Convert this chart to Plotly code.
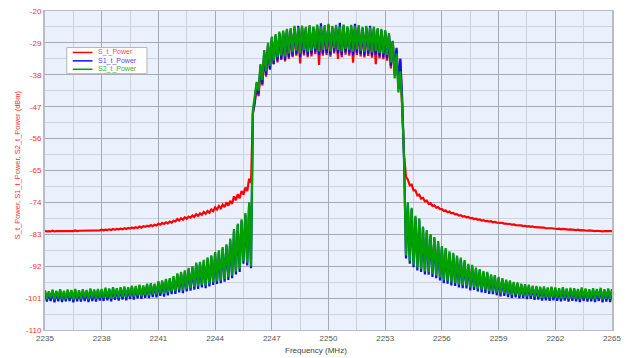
import plotly.graph_objects as go

# Frequency grid (MHz), 0.1 MHz sampling
freq = [round(2235 + 0.1 * i, 1) for i in range(301)]

# S_t_Power (dBm), rows of 1 MHz
s_power = [
    -82.0, -82.2, -82.1, -82.2, -82.0, -82.2, -82.1, -82.1, -82.0, -82.2,
    -82.0, -82.1, -82.0, -82.1, -82.0, -82.1, -81.9, -82.1, -82.0, -82.0,
    -81.9, -82.0, -81.9, -82.0, -81.8, -82.0, -81.8, -81.9, -81.8, -81.9,
    -81.7, -81.9, -81.7, -81.8, -81.6, -81.8, -81.5, -81.7, -81.5, -81.6,
    -81.4, -81.6, -81.3, -81.5, -81.2, -81.4, -81.1, -81.3, -81.0, -81.2,
    -80.8, -81.1, -80.7, -80.9, -80.6, -80.8, -80.4, -80.7, -80.3, -80.5,
    -80.0, -80.3, -79.8, -80.1, -79.6, -79.9, -79.4, -79.7, -79.2, -79.4,
    -78.7, -79.1, -78.5, -78.9, -78.2, -78.6, -78.0, -78.3, -77.7, -78.1,
    -77.3, -77.8, -77.1, -77.5, -76.7, -77.2, -76.4, -76.9, -76.0, -76.5,
    -75.4, -76.0, -75.0, -75.7, -74.6, -75.3, -74.0, -74.9, -73.6, -74.4,
    -72.3, -73.4, -71.7, -72.8, -70.8, -71.8, -69.8, -70.8, -67.3, -68.5,
    -49.0, -46.0, -41.0, -44.0, -36.5, -41.0, -32.5, -38.5, -30.0, -36.5,
    -28.0, -35.0, -27.2, -34.5, -26.5, -33.8, -26.2, -34.2, -25.8, -33.5,
    -25.5, -33.0, -25.0, -32.6, -25.3, -34.8, -24.8, -32.5, -25.2, -33.0,
    -24.8, -32.8, -25.2, -32.2, -24.6, -35.2, -25.0, -32.6, -24.8, -32.4,
    -24.5, -32.9, -25.0, -32.0, -24.7, -33.5, -25.2, -33.0, -24.6, -32.3,
    -25.0, -32.6, -24.7, -34.6, -25.0, -32.4, -24.8, -32.8, -25.2, -33.1,
    -25.0, -32.7, -25.4, -33.2, -25.2, -35.0, -25.6, -33.4, -25.8, -33.6,
    -26.2, -34.0, -27.0, -36.2, -28.5, -38.0, -31.0, -42.0, -34.0, -46.5,
    -61.0, -66.8, -67.6, -69.2, -69.0, -70.6, -70.6, -72.0, -71.8, -72.9,
    -72.7, -73.7, -73.5, -74.4, -74.2, -75.0, -74.8, -75.5, -75.3, -75.9,
    -75.9, -76.4, -76.3, -76.8, -76.6, -77.1, -77.0, -77.4, -77.3, -77.7,
    -77.6, -78.0, -77.9, -78.2, -78.1, -78.5, -78.4, -78.7, -78.6, -78.9,
    -78.8, -79.1, -79.0, -79.3, -79.2, -79.4, -79.3, -79.6, -79.5, -79.7,
    -79.7, -79.9, -79.8, -80.0, -80.0, -80.2, -80.1, -80.3, -80.2, -80.4,
    -80.4, -80.6, -80.5, -80.7, -80.6, -80.8, -80.7, -80.9, -80.8, -81.0,
    -81.0, -81.1, -81.0, -81.2, -81.1, -81.3, -81.2, -81.3, -81.3, -81.4,
    -81.4, -81.5, -81.4, -81.6, -81.5, -81.6, -81.6, -81.7, -81.6, -81.7,
    -81.7, -81.8, -81.7, -81.9, -81.8, -81.9, -81.9, -82.0, -81.9, -82.0,
    -82.0, -82.1, -82.0, -82.1, -82.0, -82.2, -82.1, -82.1, -82.1, -82.2,
    -82.1,
]

# S1_t_Power (dBm)
s1_power = [
    -99.2, -102.0, -99.4, -101.8, -99.0, -102.2, -99.3, -101.9, -98.9, -102.1,
    -99.3, -101.9, -99.0, -101.8, -99.1, -102.2, -98.8, -101.9, -99.2, -102.0,
    -98.9, -101.8, -99.1, -102.1, -98.7, -101.8, -99.0, -102.0, -98.8, -101.7,
    -98.8, -101.8, -98.5, -101.6, -98.7, -101.9, -98.3, -101.5, -98.6, -101.7,
    -98.3, -101.4, -98.1, -101.6, -98.3, -101.3, -97.9, -101.4, -98.0, -101.1,
    -97.6, -101.2, -97.8, -100.9, -97.3, -101.0, -97.2, -100.7, -97.3, -100.8,
    -96.6, -100.4, -96.4, -100.6, -96.0, -100.2, -95.8, -99.9, -95.2, -99.8,
    -94.4, -99.4, -94.0, -99.6, -93.6, -99.1, -92.9, -98.9, -92.4, -98.6,
    -91.4, -98.4, -91.2, -98.0, -90.6, -98.2, -89.9, -97.7, -89.3, -97.3,
    -88.4, -97.0, -87.9, -96.8, -87.0, -96.4, -86.2, -95.9, -84.6, -95.4,
    -81.9, -94.3, -80.4, -93.6, -79.2, -91.3, -77.4, -91.8, -74.4, -92.6,
    -48.5, -45.5, -40.5, -43.5, -35.5, -40.5, -31.5, -38.0, -29.5, -36.5,
    -27.6, -35.0, -27.0, -34.0, -26.2, -33.5, -25.8, -33.8, -25.4, -33.0,
    -25.2, -32.6, -24.6, -32.2, -24.2, -33.0, -24.5, -32.0, -24.8, -32.5,
    -24.4, -32.2, -24.6, -31.6, -24.2, -32.4, -23.5, -32.0, -24.4, -31.8,
    -24.0, -32.3, -24.6, -31.5, -24.3, -32.0, -23.3, -32.4, -24.2, -31.7,
    -24.7, -32.0, -24.3, -32.5, -23.6, -31.8, -24.4, -32.2, -24.9, -32.5,
    -24.6, -32.1, -24.2, -32.6, -24.8, -32.3, -25.2, -32.8, -25.4, -33.0,
    -25.8, -33.4, -26.6, -35.5, -28.8, -37.0, -30.4, -41.0, -33.4, -45.0,
    -62.5, -89.8, -74.4, -91.3, -75.9, -92.3, -78.2, -93.2, -78.9, -93.6,
    -81.2, -94.3, -82.2, -94.4, -83.3, -95.0, -84.2, -95.4, -85.3, -96.0,
    -86.7, -96.8, -87.3, -96.9, -88.2, -97.4, -88.6, -97.6, -89.4, -98.0,
    -90.0, -98.2, -90.7, -98.3, -91.7, -98.8, -92.0, -98.7, -92.8, -99.1,
    -93.2, -99.4, -93.8, -99.5, -94.0, -99.8, -94.7, -99.9, -94.9, -100.2,
    -95.4, -100.5, -95.8, -100.4, -96.2, -100.7, -96.4, -100.9, -96.8, -100.8,
    -97.0, -101.1, -97.3, -101.0, -97.5, -101.3, -97.6, -101.2, -97.9, -101.5,
    -98.0, -101.4, -98.2, -101.7, -98.1, -101.6, -98.4, -101.8, -98.2, -101.6,
    -98.4, -101.8, -98.6, -101.9, -98.3, -101.7, -98.7, -102.0, -98.5, -101.8,
    -98.6, -101.9, -98.8, -102.1, -98.4, -101.8, -98.7, -102.0, -98.9, -101.9,
    -98.6, -102.1, -98.8, -101.8, -98.5, -102.2, -98.9, -102.0, -98.7, -102.1,
    -98.8,
]

# S2_t_Power (dBm)
s2_power = [
    -98.8, -101.3, -99.1, -101.0, -98.6, -101.4, -98.9, -101.1, -98.5, -101.3,
    -98.9, -101.2, -98.6, -101.0, -98.7, -101.4, -98.4, -101.1, -98.8, -101.2,
    -98.5, -101.0, -98.7, -101.3, -98.3, -101.0, -98.6, -101.2, -98.4, -100.9,
    -98.4, -101.0, -98.1, -100.8, -98.3, -101.1, -97.9, -100.7, -98.2, -100.9,
    -97.9, -100.6, -97.7, -100.8, -97.9, -100.5, -97.5, -100.6, -97.6, -100.3,
    -97.2, -100.4, -97.4, -100.1, -96.9, -100.2, -96.8, -99.9, -96.9, -100.0,
    -96.2, -99.6, -96.0, -99.8, -95.6, -99.4, -95.4, -99.1, -94.8, -99.0,
    -94.0, -98.6, -93.6, -98.8, -93.2, -98.3, -92.5, -98.1, -92.0, -97.8,
    -91.0, -97.6, -90.8, -97.2, -90.2, -97.4, -89.5, -96.9, -88.9, -96.5,
    -88.0, -96.2, -87.5, -96.0, -86.6, -95.6, -85.8, -95.1, -84.2, -94.6,
    -81.5, -93.5, -80.0, -92.8, -78.8, -90.5, -77.0, -91.0, -74.0, -92.0,
    -48.0, -44.5, -40.0, -42.5, -35.0, -39.5, -31.0, -37.0, -29.0, -35.5,
    -27.2, -34.0, -26.5, -33.0, -25.8, -32.5, -25.5, -32.8, -25.0, -32.0,
    -24.8, -31.6, -24.2, -31.2, -24.6, -32.0, -24.1, -31.0, -24.5, -31.5,
    -24.0, -31.2, -24.4, -30.6, -23.8, -31.4, -24.3, -31.0, -24.0, -30.8,
    -23.6, -31.3, -24.2, -30.5, -23.9, -31.0, -24.4, -31.4, -23.8, -30.7,
    -24.3, -31.0, -23.9, -31.5, -24.2, -30.8, -24.0, -31.2, -24.5, -31.5,
    -24.2, -31.1, -24.6, -31.6, -24.4, -31.3, -24.8, -31.8, -25.0, -32.0,
    -25.4, -32.4, -26.2, -34.5, -28.4, -39.0, -32.0, -43.0, -37.0, -47.0,
    -62.0, -89.0, -74.0, -90.5, -75.5, -91.5, -77.8, -92.4, -78.5, -92.8,
    -80.8, -93.5, -81.8, -93.6, -82.9, -94.2, -83.8, -94.6, -84.9, -95.2,
    -86.3, -96.0, -86.9, -96.1, -87.8, -96.6, -88.2, -96.8, -89.0, -97.2,
    -89.6, -97.4, -90.3, -97.5, -91.3, -98.0, -91.6, -97.9, -92.4, -98.3,
    -92.8, -98.6, -93.4, -98.7, -93.6, -99.0, -94.3, -99.1, -94.5, -99.4,
    -95.0, -99.7, -95.4, -99.6, -95.8, -99.9, -96.0, -100.1, -96.4, -100.0,
    -96.6, -100.3, -96.9, -100.2, -97.1, -100.5, -97.2, -100.4, -97.5, -100.7,
    -97.6, -100.6, -97.8, -100.9, -97.7, -100.8, -98.0, -101.0, -97.8, -100.8,
    -98.0, -101.0, -98.2, -101.1, -97.9, -100.9, -98.3, -101.2, -98.1, -101.0,
    -98.2, -101.1, -98.4, -101.3, -98.0, -101.0, -98.3, -101.2, -98.5, -101.1,
    -98.2, -101.3, -98.4, -101.0, -98.1, -101.4, -98.5, -101.2, -98.3, -101.3,
    -98.4,
]

series_names = ["S_t_Power", "S1_t_Power", "S2_t_Power"]
line_colors = ["#ff0000", "#1010ee", "#00a000"]
legend_text_colors = ["#ff4a4a", "#4a4aff", "#3aaa3a"]

x_ticks = [2235, 2238, 2241, 2244, 2247, 2250, 2253, 2256, 2259, 2262, 2265]
y_ticks = [-20, -29, -38, -47, -56, -65, -74, -83, -92, -101, -110]

FONT = "Liberation Sans, Arial, sans-serif"

fig = go.Figure()
for name, ys, col in zip(series_names, [s_power, s1_power, s2_power], line_colors):
    fig.add_trace(go.Scatter(x=freq, y=ys, mode="lines", name=name,
                             line=dict(color=col, width=2.2)))

# Compact boxed legend (drawn in paper coordinates)
shapes = [dict(type="rect", xref="paper", yref="paper", x0=0.0384, x1=0.1798,
               y0=0.8034, y1=0.8854, fillcolor="white",
               line=dict(color="#b4b4b4", width=1), layer="above")]
annotations = []
legend_rows_y = [0.870, 0.8437, 0.8173]
for name, lc, tc, ly in zip(series_names, line_colors, legend_text_colors, legend_rows_y):
    shapes.append(dict(type="line", xref="paper", yref="paper", x0=0.0489,
                       x1=0.0838, y0=ly, y1=ly, line=dict(color=lc, width=1.5),
                       layer="above"))
    annotations.append(dict(text=name, xref="paper", yref="paper", x=0.0900,
                            y=ly, xanchor="left", yanchor="middle",
                            showarrow=False,
                            font=dict(color=tc, size=7, family=FONT)))

annotations += [
    dict(text="S_t_Power, S1_t_Power, S2_t_Power (dBm)", xref="paper",
         yref="paper", x=-0.049, y=0.517, textangle=-90, showarrow=False,
         font=dict(color="#ff3030", size=7.5, family=FONT),
         xanchor="center", yanchor="middle"),
    dict(text="Frequency (MHz)", xref="paper", yref="paper", x=0.478,
         y=-0.065, showarrow=False,
         font=dict(color="#444444", size=8, family=FONT),
         xanchor="center", yanchor="middle"),
]

fig.update_layout(
    width=628, height=358,
    margin=dict(l=45, r=10, t=7, b=28),
    paper_bgcolor="white",
    plot_bgcolor="#eaf0fc",
    font=dict(family=FONT, size=8, color="#555555"),
    showlegend=False,
    xaxis=dict(range=[2235, 2265], tickvals=x_ticks,
               ticktext=[str(v) for v in x_ticks],
               tickfont=dict(color="#555555", size=8),
               showgrid=True, gridcolor="#a6aab2", gridwidth=1,
               minor=dict(dtick=1.5, tick0=2235, showgrid=True,
                          gridcolor="#cdd2db", gridwidth=1),
               showline=True, linecolor="#b8bcc4", linewidth=1, mirror=True,
               zeroline=False, ticks=""),
    yaxis=dict(range=[-110, -20], tickvals=y_ticks,
               ticktext=[str(v) for v in y_ticks],
               tickfont=dict(color="#ff3030", size=8),
               showgrid=True, gridcolor="#a6aab2", gridwidth=1,
               minor=dict(dtick=4.5, tick0=-110, showgrid=True,
                          gridcolor="#cdd2db", gridwidth=1),
               showline=True, linecolor="#b8bcc4", linewidth=2, mirror=True,
               zeroline=False, ticks=""),
    shapes=shapes,
    annotations=annotations,
)

fig.write_html("out.html")
